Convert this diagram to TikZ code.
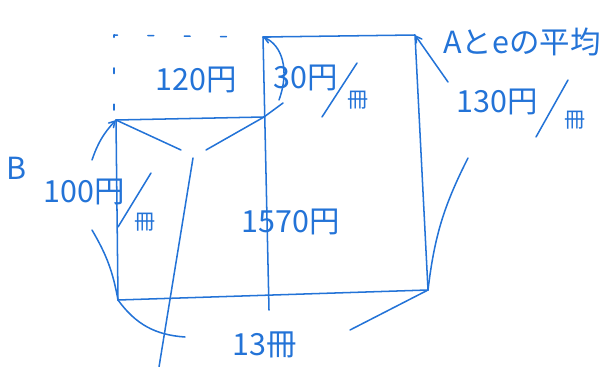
\documentclass[tikz,border=0pt]{standalone}
\usepackage{fontspec}
\setmainfont{Noto Sans CJK JP}
\usepackage{tikz}
\usetikzlibrary{arrows}
\definecolor{inkblue}{RGB}{35,115,215}

\begin{document}
\begin{tikzpicture}[x=0.03cm,y=-0.03cm,>=angle 60,
    ink/.style={draw=inkblue,line width=1.3pt,line cap=round,line join=round},
    lbl/.style={text=inkblue,font=\fontsize{26}{28}\selectfont,inner sep=1pt},
    unitlbl/.style={text=inkblue,font=\fontsize{18}{20}\selectfont,inner sep=1pt}]
    \useasboundingbox (0,0) rectangle (616,367);
    % corners of the area figure
    \coordinate (LT) at (116,120);
    \coordinate (MT) at (264,117);
    \coordinate (LB) at (118,300);
    \coordinate (MTop) at (263,37);
    \coordinate (MB) at (269,310);
    \coordinate (RT) at (415,35);
    \coordinate (RB) at (428,290);
    \coordinate (DL) at (114,110);
    \coordinate (DT) at (114,35);
    \coordinate (DR) at (246,37);
    \draw[ink] (MTop) -- (RT) -- (RB);
    \draw[ink] (LB) -- (RB);
    \draw[ink] (LT) -- (MT);
    \draw[ink] (LT) -- (LB);
    \draw[ink] (MTop) -- (MB);
    \draw[ink,dash pattern=on 5pt off 26pt] (DL) -- (DT) -- (DR);
    % labels
    \node[lbl] (n120) at (196,80) {120円};
    \node[lbl] (n30) at (306,78) {30円};
    \node[unitlbl] (u30) at (358,100) {冊};
    \node[lbl] (nB) at (17,168) {B};
    \node[lbl] (n100) at (84,192) {100円};
    \node[unitlbl] (u100) at (145,222) {冊};
    \node[lbl] (n1570) at (291,222) {1570円};
    \node[lbl] (n13) at (265,345) {13冊};
    \node[lbl] (nAvg) at (522,42) {Aとeの平均};
    \node[lbl] (n130) at (497,102) {130円};
    \node[unitlbl] (u130) at (575,120) {冊};
    % slashes of 円/冊
    \draw[ink] (322,117) -- (357,63);
    \draw[ink] (118,227) -- (151,173);
    \draw[ink] (536,137) -- (568,80);
    % pointers
    \coordinate (a30) at (279,100);
    \coordinate (b30) at (283,103);
    \coordinate (p1) at (181,150);
    \coordinate (p2) at (206,150);
    \coordinate (p3) at (193,158);
    \coordinate (p4) at (159,367);
    \coordinate (b1) at (92,160);
    \coordinate (b2) at (92,230);
    \coordinate (c1) at (185,337);
    \coordinate (c2) at (350,330);
    \coordinate (a1) at (448,82);
    \coordinate (a2) at (468,158);
    \draw[ink,->] (a30) .. controls (290,70) and (282,45) .. (MTop);
    \draw[ink] (b30) -- (MT);
    \draw[ink] (p1) -- (LT);
    \draw[ink] (p2) -- (MT);
    \draw[ink] (p3) -- (p4);
    \draw[ink,->] (b1) to[bend left=12] (LT);
    \draw[ink] (b2) to[bend left=10] (LB);
    \draw[ink] (LB) to[bend right=25] (c1);
    \draw[ink] (c2) -- (RB);
    \draw[ink,->] (a1) -- (RT);
    \draw[ink] (a2) to[bend right=10] (RB);
\end{tikzpicture}
\end{document}
